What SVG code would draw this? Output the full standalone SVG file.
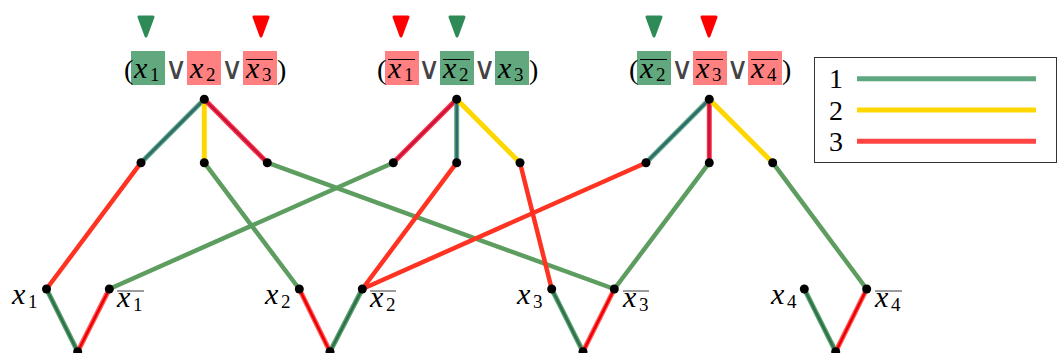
<svg xmlns="http://www.w3.org/2000/svg" width="1059" height="353" viewBox="0 0 1059 353">
<style>
.g{stroke:#5d9e60;stroke-width:4.5;fill:none;stroke-linecap:round}
.r{stroke:#ff3322;stroke-width:4.5;fill:none;stroke-linecap:round}
.y{stroke:#ffd700;stroke-width:5;fill:none}
.tO{stroke:#5fa87f;stroke-width:5;fill:none}
.tI{stroke:#2d6a72;stroke-width:2.5;fill:none}
.cO{stroke:#ff3344;stroke-width:5;fill:none}
.cI{stroke:#c8143f;stroke-width:2.5;fill:none}
.bgO{stroke:#5aa070;stroke-width:5;fill:none}
.bgI{stroke:#2e7348;stroke-width:2.5;fill:none}
.brO{stroke:#ff5a5a;stroke-width:5;fill:none}
.brI{stroke:#ee0000;stroke-width:2.5;fill:none}
.gb{fill:#62a87e}
.rb{fill:#ff8080}
.ov{stroke:#000;stroke-width:1}
.ovl{stroke:#666;stroke-width:1.3}
.tg{fill:#2e8b57;stroke:#2e8b57;stroke-width:3;stroke-linejoin:round}
.tr{fill:#ff0000;stroke:#ff0000;stroke-width:3;stroke-linejoin:round}
.d{fill:#000}
</style>

<g id="connectors">
  <line class="r" x1="141" y1="162.7" x2="46.5" y2="289"/>
  <line class="g" x1="204.3" y1="162.7" x2="299.3" y2="289"/>
  <line class="g" x1="267.3" y1="162.7" x2="614.3" y2="289"/>
  <line class="g" x1="393.3" y1="162.7" x2="109.3" y2="289"/>
  <line class="r" x1="456.7" y1="162.7" x2="362.3" y2="289"/>
  <line class="r" x1="520" y1="162.7" x2="551.7" y2="289"/>
  <line class="r" x1="646" y1="162.7" x2="362.3" y2="289"/>
  <line class="g" x1="709.3" y1="162.7" x2="614.3" y2="289"/>
  <line class="g" x1="772.7" y1="162.7" x2="866.7" y2="289"/>
  <line class="tO" x1="204.3" y1="99.3" x2="141" y2="162.7"/>
  <line class="tI" x1="204.3" y1="99.3" x2="141" y2="162.7"/>
  <line class="y" x1="204.3" y1="99.3" x2="204.3" y2="162.7"/>
  <line class="cO" x1="204.3" y1="99.3" x2="267.3" y2="162.7"/>
  <line class="cI" x1="204.3" y1="99.3" x2="267.3" y2="162.7"/>
  <line class="cO" x1="456.7" y1="99.3" x2="393.3" y2="162.7"/>
  <line class="cI" x1="456.7" y1="99.3" x2="393.3" y2="162.7"/>
  <line class="tO" x1="456.7" y1="99.3" x2="456.7" y2="162.7"/>
  <line class="tI" x1="456.7" y1="99.3" x2="456.7" y2="162.7"/>
  <line class="y" x1="456.7" y1="99.3" x2="520" y2="162.7"/>
  <line class="tO" x1="709.3" y1="99.3" x2="646" y2="162.7"/>
  <line class="tI" x1="709.3" y1="99.3" x2="646" y2="162.7"/>
  <line class="cO" x1="709.3" y1="99.3" x2="709.3" y2="162.7"/>
  <line class="cI" x1="709.3" y1="99.3" x2="709.3" y2="162.7"/>
  <line class="y" x1="709.3" y1="99.3" x2="772.7" y2="162.7"/>
  <line class="bgO" x1="46.5" y1="289" x2="77.7" y2="351.7"/>
  <line class="bgI" x1="46.5" y1="289" x2="77.7" y2="351.7"/>
  <line class="brO" x1="109.3" y1="289" x2="77.7" y2="351.7"/>
  <line class="brI" x1="109.3" y1="289" x2="77.7" y2="351.7"/>
  <line class="brO" x1="299.3" y1="289" x2="330" y2="351.7"/>
  <line class="brI" x1="299.3" y1="289" x2="330" y2="351.7"/>
  <line class="bgO" x1="362.3" y1="289" x2="330" y2="351.7"/>
  <line class="bgI" x1="362.3" y1="289" x2="330" y2="351.7"/>
  <line class="bgO" x1="551.7" y1="289" x2="583" y2="351.7"/>
  <line class="bgI" x1="551.7" y1="289" x2="583" y2="351.7"/>
  <line class="brO" x1="614.3" y1="289" x2="583" y2="351.7"/>
  <line class="brI" x1="614.3" y1="289" x2="583" y2="351.7"/>
  <line class="bgO" x1="804.3" y1="289" x2="835.7" y2="351.7"/>
  <line class="bgI" x1="804.3" y1="289" x2="835.7" y2="351.7"/>
  <line class="brO" x1="866.7" y1="289" x2="835.7" y2="351.7"/>
  <line class="brI" x1="866.7" y1="289" x2="835.7" y2="351.7"/>
</g>

<g id="clause1">
  <path class="tg" d="M139,17 L153,17 L146,36 Z"/>
  <path class="tr" d="M254,17 L268,17 L261,36 Z"/>
  <rect class="gb" x="131" y="51" width="34" height="34"/>
  <rect class="rb" x="187" y="51" width="34" height="34"/>
  <rect class="rb" x="243" y="51" width="34" height="34"/>
  <line class="ov" x1="246" y1="59.5" x2="273" y2="59.5"/>
  <g font-family="Liberation Serif, serif" fill="#000">
    <text x="124" y="79" font-size="28">(</text>
    <text x="277" y="79" font-size="28">)</text>
    <g font-style="italic" font-size="30">
      <text x="134" y="78">x</text>
      <text x="190" y="78">x</text>
      <text x="246" y="78">x</text>
    </g>
    <g font-size="19">
      <text x="150" y="81">1</text>
      <text x="206" y="81">2</text>
      <text x="262" y="81">3</text>
    </g>
  </g>
  <g font-family="DejaVu Sans, sans-serif" font-size="31" fill="#444" text-anchor="middle">
    <text x="176" y="79">∨</text>
    <text x="232" y="79">∨</text>
  </g>
  <circle class="d" cx="204.3" cy="99.3" r="4.5"/>
  <circle class="d" cx="141" cy="162.7" r="4.5"/>
  <circle class="d" cx="204.3" cy="162.7" r="4.5"/>
  <circle class="d" cx="267.3" cy="162.7" r="4.5"/>
</g>

<g id="clause2">
  <path class="tr" d="M394,17 L408,17 L401,36 Z"/>
  <path class="tg" d="M450,17 L464,17 L457,36 Z"/>
  <rect class="rb" x="385" y="51" width="34" height="34"/>
  <rect class="gb" x="440" y="51" width="34" height="34"/>
  <rect class="gb" x="495" y="51" width="34" height="34"/>
  <line class="ov" x1="388" y1="59.5" x2="415" y2="59.5"/>
  <line class="ov" x1="443" y1="59.5" x2="470" y2="59.5"/>
  <g font-family="Liberation Serif, serif" fill="#000">
    <text x="377" y="79" font-size="28">(</text>
    <text x="529" y="79" font-size="28">)</text>
    <g font-style="italic" font-size="30">
      <text x="388" y="78">x</text>
      <text x="443" y="78">x</text>
      <text x="498" y="78">x</text>
    </g>
    <g font-size="19">
      <text x="404" y="81">1</text>
      <text x="459" y="81">2</text>
      <text x="514" y="81">3</text>
    </g>
  </g>
  <g font-family="DejaVu Sans, sans-serif" font-size="31" fill="#444" text-anchor="middle">
    <text x="429" y="79">∨</text>
    <text x="484.5" y="79">∨</text>
  </g>
  <circle class="d" cx="456.7" cy="99.3" r="4.5"/>
  <circle class="d" cx="393.3" cy="162.7" r="4.5"/>
  <circle class="d" cx="456.7" cy="162.7" r="4.5"/>
  <circle class="d" cx="520" cy="162.7" r="4.5"/>
</g>

<g id="clause3">
  <path class="tg" d="M647,17 L661,17 L654,36 Z"/>
  <path class="tr" d="M702,17 L716,17 L709,36 Z"/>
  <rect class="gb" x="637" y="51" width="34" height="34"/>
  <rect class="rb" x="693" y="51" width="34" height="34"/>
  <rect class="rb" x="748" y="51" width="34" height="34"/>
  <line class="ov" x1="640" y1="59.5" x2="667" y2="59.5"/>
  <line class="ov" x1="696" y1="59.5" x2="723" y2="59.5"/>
  <line class="ov" x1="751" y1="59.5" x2="778" y2="59.5"/>
  <g font-family="Liberation Serif, serif" fill="#000">
    <text x="629" y="79" font-size="28">(</text>
    <text x="782" y="79" font-size="28">)</text>
    <g font-style="italic" font-size="30">
      <text x="640" y="78">x</text>
      <text x="696" y="78">x</text>
      <text x="751" y="78">x</text>
    </g>
    <g font-size="19">
      <text x="656" y="81">2</text>
      <text x="712" y="81">3</text>
      <text x="767" y="81">4</text>
    </g>
  </g>
  <g font-family="DejaVu Sans, sans-serif" font-size="31" fill="#444" text-anchor="middle">
    <text x="682" y="79">∨</text>
    <text x="737.5" y="79">∨</text>
  </g>
  <circle class="d" cx="709.3" cy="99.3" r="4.5"/>
  <circle class="d" cx="646" cy="162.7" r="4.5"/>
  <circle class="d" cx="709.3" cy="162.7" r="4.5"/>
  <circle class="d" cx="772.7" cy="162.7" r="4.5"/>
</g>

<g id="var1">
  <line class="ovl" x1="117" y1="291" x2="144" y2="291"/>
  <g font-family="Liberation Serif, serif" fill="#000">
    <text x="12" y="304" font-size="30" font-style="italic">x</text>
    <text x="28" y="308" font-size="19">1</text>
    <text x="117" y="307" font-size="30" font-style="italic">x</text>
    <text x="133" y="311" font-size="19">1</text>
  </g>
  <circle class="d" cx="46.5" cy="289" r="4.5"/>
  <circle class="d" cx="109.3" cy="289" r="4.5"/>
  <circle class="d" cx="77.7" cy="351.7" r="4.5"/>
</g>
<g id="var2">
  <line class="ovl" x1="370" y1="291" x2="396" y2="291"/>
  <g font-family="Liberation Serif, serif" fill="#000">
    <text x="265" y="304" font-size="30" font-style="italic">x</text>
    <text x="281" y="308" font-size="19">2</text>
    <text x="370" y="307" font-size="30" font-style="italic">x</text>
    <text x="386" y="311" font-size="19">2</text>
  </g>
  <circle class="d" cx="299.3" cy="289" r="4.5"/>
  <circle class="d" cx="362.3" cy="289" r="4.5"/>
  <circle class="d" cx="330" cy="351.7" r="4.5"/>
</g>
<g id="var3">
  <line class="ovl" x1="623" y1="291" x2="649" y2="291"/>
  <g font-family="Liberation Serif, serif" fill="#000">
    <text x="517" y="304" font-size="30" font-style="italic">x</text>
    <text x="533" y="308" font-size="19">3</text>
    <text x="623" y="307" font-size="30" font-style="italic">x</text>
    <text x="639" y="311" font-size="19">3</text>
  </g>
  <circle class="d" cx="551.7" cy="289" r="4.5"/>
  <circle class="d" cx="614.3" cy="289" r="4.5"/>
  <circle class="d" cx="583" cy="351.7" r="4.5"/>
</g>
<g id="var4">
  <line class="ovl" x1="875" y1="291" x2="902" y2="291"/>
  <g font-family="Liberation Serif, serif" fill="#000">
    <text x="771" y="304" font-size="30" font-style="italic">x</text>
    <text x="787" y="308" font-size="19">4</text>
    <text x="875" y="307" font-size="30" font-style="italic">x</text>
    <text x="891" y="311" font-size="19">4</text>
  </g>
  <circle class="d" cx="804.3" cy="289" r="4.5"/>
  <circle class="d" cx="866.7" cy="289" r="4.5"/>
  <circle class="d" cx="835.7" cy="351.7" r="4.5"/>
</g>

<g id="legend">
  <rect x="814.5" y="57.5" width="242" height="105" fill="#fff" stroke="#333" stroke-width="1"/>
  <g font-family="Liberation Serif, serif" font-size="28" fill="#000">
    <text x="829" y="88">1</text>
    <text x="829" y="120">2</text>
    <text x="829" y="151">3</text>
  </g>
  <line x1="857" y1="78.7" x2="1036" y2="78.7" stroke="#5fa87f" stroke-width="5"/>
  <line x1="857" y1="110" x2="1036" y2="110" stroke="#ffd700" stroke-width="5"/>
  <line x1="857" y1="141.3" x2="1036" y2="141.3" stroke="#ff4444" stroke-width="5"/>
</g>
</svg>
